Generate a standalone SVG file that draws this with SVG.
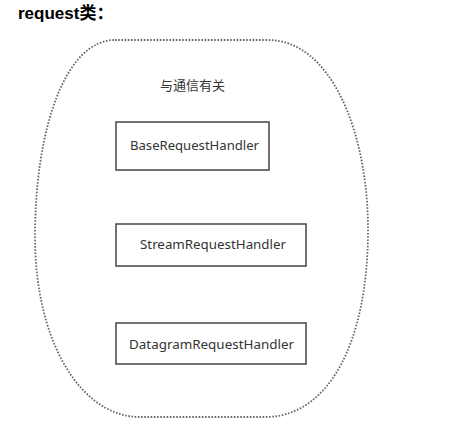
<svg xmlns="http://www.w3.org/2000/svg" width="473" height="430" viewBox="0 0 473 430">
<style>
.box{fill:#fff;stroke:#444;stroke-width:1.5}
.lbl{font-family:"Noto Sans","Noto Sans CJK SC",sans-serif;font-size:13px;fill:#333}
.title{font-family:"Liberation Sans","Noto Sans CJK SC",sans-serif;font-size:17px;font-weight:bold;fill:#000}
</style>
<rect width="473" height="430" fill="#fff"/>
<text class="title" x="18" y="19">request类：</text>
<g id="group">
<path d="M115,40 L268,40 C330,40 368,130 368,230 C368,340 330,417 265,417 L140,417 C80,417 35,340 35,237 C35,130 65,40 115,40 Z" fill="none" stroke="#666" stroke-width="1.8" stroke-dasharray="1.6 1.6"/>
<text class="lbl" x="192.5" y="90" text-anchor="middle">与通信有关</text>
</g>
<g id="base">
<rect class="box" x="116" y="122" width="153" height="48"/>
<text class="lbl" x="130" y="150" textLength="129" lengthAdjust="spacingAndGlyphs">BaseRequestHandler</text>
</g>
<g id="stream">
<rect class="box" x="116" y="224" width="190" height="42"/>
<text class="lbl" x="140" y="249" textLength="146" lengthAdjust="spacingAndGlyphs">StreamRequestHandler</text>
</g>
<g id="datagram">
<rect class="box" x="116" y="323" width="190" height="41"/>
<text class="lbl" x="129" y="349" textLength="165" lengthAdjust="spacingAndGlyphs">DatagramRequestHandler</text>
</g>
<g id="connectors"></g>
</svg>
